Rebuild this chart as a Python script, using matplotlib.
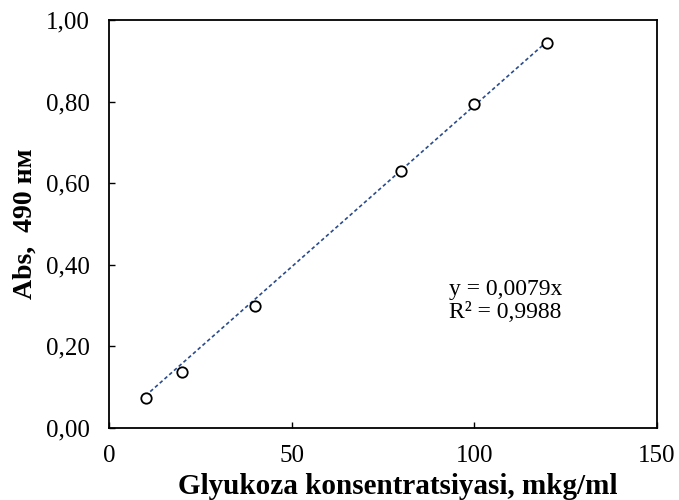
import numpy as np
import matplotlib.pyplot as plt
from matplotlib.ticker import FuncFormatter

# data
conc = [10, 20, 40, 80, 100, 120]
absorb = [0.073, 0.137, 0.299, 0.630, 0.794, 0.944]
slope = 0.0079
x_ticks = [0, 50, 100, 150]
y_ticks = [0.0, 0.2, 0.4, 0.6, 0.8, 1.0]

plt.rcParams["font.family"] = ["Liberation Serif", "DejaVu Serif"]

fig = plt.figure(figsize=(6.79, 5.0), dpi=100)
ax = fig.add_axes([0.1605, 0.144, 0.807, 0.816])

# trendline through origin over the data range
xt = np.array([min(conc), max(conc)])
ax.plot(xt, slope * xt, linestyle=(0, (2.2, 1.6)), color="#2B4C8C", linewidth=1.2)
ax.plot(conc, absorb, linestyle="none", marker="o", markersize=7.5,
        markerfacecolor="white", markeredgecolor="black", markeredgewidth=1.3)

ax.set_xlim(0, 150)
ax.set_ylim(0, 1.0)
ax.set_xticks(x_ticks)
ax.set_yticks(y_ticks)
ax.yaxis.set_major_formatter(FuncFormatter(lambda v, p: f"{v:.2f}".replace(".", ",")))
ax.tick_params(direction="in", length=4, width=1, labelsize=18)
ax.tick_params(axis="x", pad=12)
ax.tick_params(axis="y", pad=14)
for s in ax.spines.values():
    s.set_linewidth(1.3)

ax.set_xlabel("Glyukoza konsentratsiyasi, mkg/ml", fontsize=21, fontweight="bold")
ax.xaxis.set_label_coords(0.527, -0.162)
ax.xaxis.label.set_va("baseline")
ax.set_ylabel("Abs,  490 нм", fontsize=20, fontweight="bold", labelpad=6)

ax.text(0.62, 0.27, "y = 0,0079x\nR² = 0,9988", transform=ax.transAxes,
        fontsize=17, linespacing=1.1, va="baseline", ha="left")

fig.savefig("out.png", dpi=100)
